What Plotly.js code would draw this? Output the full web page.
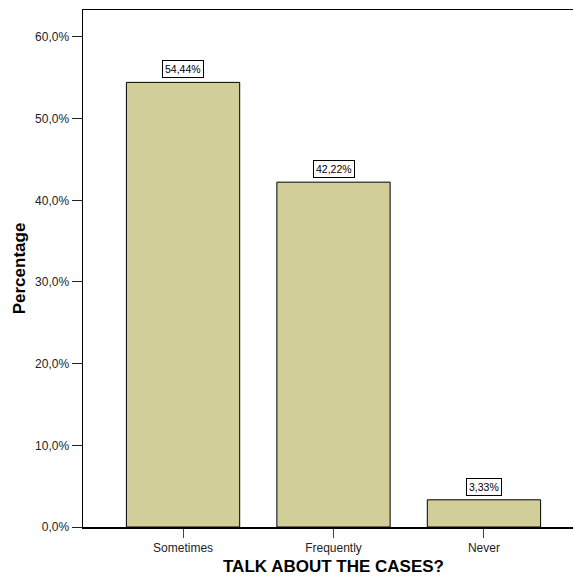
<!DOCTYPE html>
<html>
<head>
<meta charset="utf-8">
<script src="https://cdn.plot.ly/plotly-3.0.1.min.js"></script>
<style>
  html, body { margin: 0; padding: 0; overflow: hidden; background: #fff; }
  #chart { width: 600px; height: 577px; }
</style>
</head>
<body>
<div id="chart"></div>
<script>
// Answers to "TALK ABOUT THE CASES?"
const categories = ["Sometimes", "Frequently", "Never"];
const percentages = [54.44, 42.22, 3.33];
const yTicks = [0, 10, 20, 30, 40, 50, 60];

const fontFamily = "Liberation Sans, Arial, sans-serif";

const pct = (v, d) => v.toFixed(d).replace(".", ",") + "%";

const trace = {
  type: "bar",
  x: categories,
  y: percentages,
  width: 0.753,
  marker: { color: "#D2CE99", line: { color: "#000", width: 1 } },
  hoverinfo: "skip"
};

// Boxed value labels above each bar
const labels = categories.map((c, i) => ({
  x: c,
  y: percentages[i],
  xref: "x",
  yref: "y",
  text: pct(percentages[i], 2),
  showarrow: false,
  yanchor: "bottom",
  yshift: 4,
  font: { family: fontFamily, size: 10.5, color: "#000" },
  bgcolor: "#fff",
  bordercolor: "#000",
  borderwidth: 1,
  borderpad: 2
}));

const layout = {
  width: 600,
  height: 577,
  margin: { l: 83, r: 16, t: 10, b: 50 },
  paper_bgcolor: "#fff",
  plot_bgcolor: "#fff",
  showlegend: false,
  font: { family: fontFamily, color: "#222" },
  xaxis: {
    range: [-0.665, 2.665],
    showline: true,
    mirror: true,
    linecolor: "#000",
    linewidth: 1.5,
    ticks: "outside",
    ticklen: 9,
    tickcolor: "#444",
    tickwidth: 1,
    tickfont: { family: fontFamily, size: 12, color: "#222" },
    showgrid: false,
    zeroline: false,
    title: {
      text: "<b>TALK ABOUT THE CASES?</b>",
      font: { family: fontFamily, size: 17, color: "#000" },
      standoff: 6
    }
  },
  yaxis: {
    range: [0, 63.3],
    tickmode: "array",
    tickvals: yTicks,
    ticktext: yTicks.map(v => pct(v, 1)),
    showline: true,
    mirror: true,
    linecolor: "#000",
    linewidth: 1.5,
    ticks: "outside",
    ticklen: 10,
    tickcolor: "#222",
    tickwidth: 1,
    tickfont: { family: fontFamily, size: 12, color: "#222" },
    showgrid: false,
    zeroline: false,
    title: {
      text: "<b>Percentage</b>",
      font: { family: fontFamily, size: 17, color: "#000" },
      standoff: 5
    }
  },
  annotations: labels
};

Plotly.newPlot("chart", [trace], layout, { displayModeBar: false, staticPlot: true });
</script>
</body>
</html>
